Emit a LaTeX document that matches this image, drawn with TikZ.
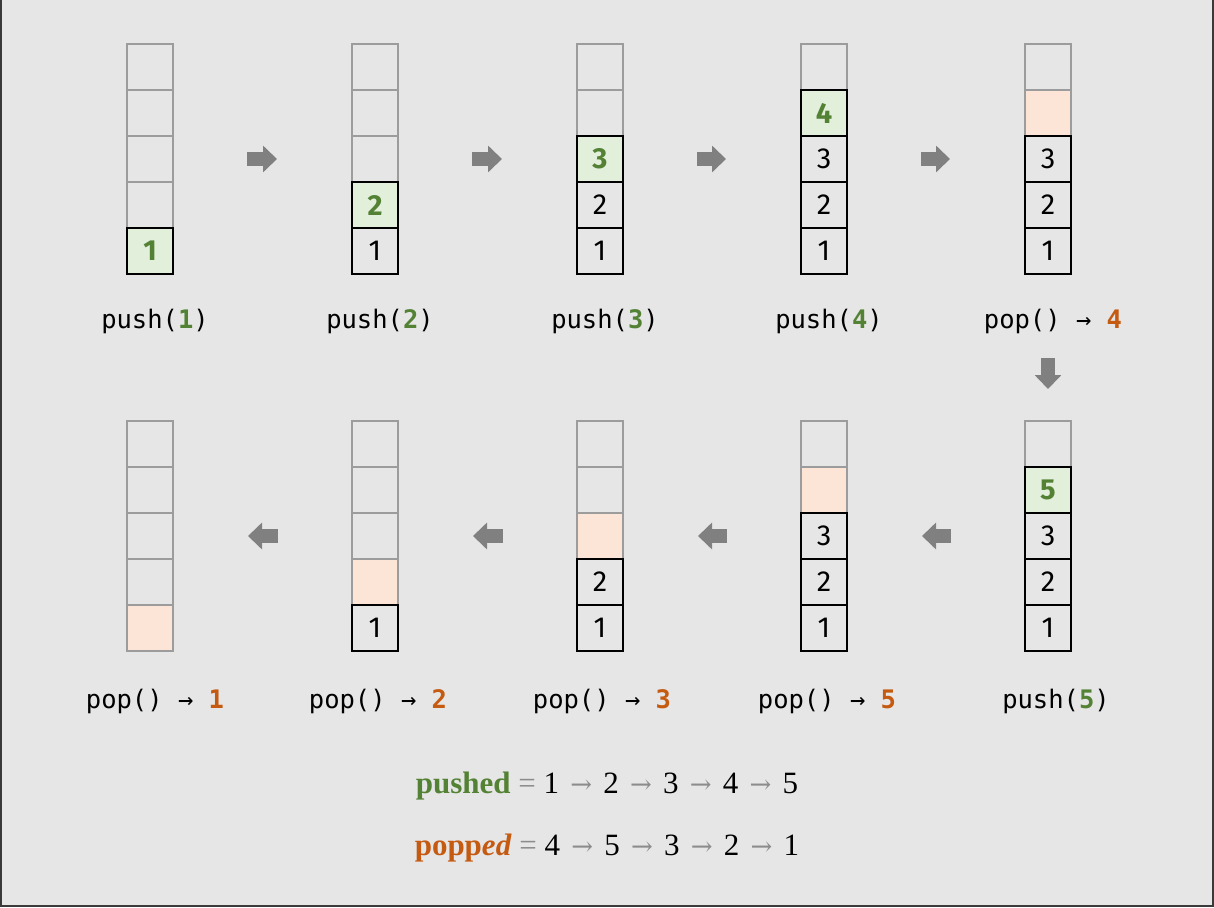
\documentclass[tikz,border=0pt]{standalone}
\usepackage{fontspec}
\setmainfont{Liberation Serif}
\setsansfont{Fira Sans}
\setmonofont{DejaVu Sans Mono}
\newfontfamily\arrowfont{DejaVu Serif}
\usetikzlibrary{arrows.meta}
\definecolor{bgGray}{HTML}{E6E6E6}
\definecolor{frameGray}{HTML}{3A3A3A}
\definecolor{emptyGray}{HTML}{9C9C9C}
\definecolor{arrowGray}{HTML}{808080}
\definecolor{symGray}{HTML}{8C8C8C}
\definecolor{pushGreen}{HTML}{548235}
\definecolor{pushFill}{HTML}{E2EFDA}
\definecolor{popOrange}{HTML}{C55A11}
\definecolor{popFill}{HTML}{FCE4D6}
\newcommand{\nxt}{\hspace{3.5pt}{\color{symGray}\arrowfont\fontsize{26}{26}\selectfont→}\hspace{3.5pt}}

\begin{document}
\begin{tikzpicture}[
		x = 1pt, y = -1pt,
		cell/.style = {
			draw,
			rectangle,
			minimum size = 46pt,
			inner sep = 0pt,
			font = \sffamily\fontsize{29}{29}\selectfont,
		},
		celle/.style = {cell, draw = emptyGray, line width = 1.5pt},
		celln/.style = {cell, draw = black, line width = 2pt},
		cellg/.style = {celln, fill = pushFill, text = pushGreen, font = \sffamily\bfseries\fontsize{29}{29}\selectfont},
		cellp/.style = {celle, fill = popFill},
		oplabel/.style = {font = \ttfamily\fontsize{25.5}{25.5}\selectfont},
		formula/.style = {font = \fontsize{31}{31}\selectfont},
		flow/.style = {
			draw = arrowGray,
			line width = 14pt,
			-{Triangle[length = 14pt, width = 26pt]},
			shorten <= 97pt,
			shorten >= 98pt,
		}
	]
	\useasboundingbox (0,0) rectangle (1214,907);
	\fill[bgGray] (0,0) rectangle (1214,907);
	\draw[frameGray, line width = 2pt] (1,0) -- (1,906) -- (1213,906) -- (1213,0);

	% stacks, cells listed from top to bottom
	\foreach \i/\cx/\ytop/\cells in {
			1/150/44/{e/{},e/{},e/{},e/{},g/1},
			2/375/44/{e/{},e/{},e/{},g/2,n/1},
			3/600/44/{e/{},e/{},g/3,n/2,n/1},
			4/824/44/{e/{},g/4,n/3,n/2,n/1},
			5/1048/44/{e/{},p/{},n/3,n/2,n/1},
			6/1048/421/{e/{},g/5,n/3,n/2,n/1},
			7/824/421/{e/{},p/{},n/3,n/2,n/1},
			8/600/421/{e/{},e/{},p/{},n/2,n/1},
			9/375/421/{e/{},e/{},e/{},p/{},n/1},
			10/150/421/{e/{},e/{},e/{},e/{},p/{}}}
		{
			\foreach \t/\v [count = \k] in \cells
				\node [cell\t] (s\i-\k) at (\cx, \ytop + \k*46 - 23) {\v};
		}

	% labels
	\node [oplabel] (l1) at (155,321) {push({\color{pushGreen}\bfseries 1})};
	\node [oplabel] (l2) at (380,321) {push({\color{pushGreen}\bfseries 2})};
	\node [oplabel] (l3) at (605,321) {push({\color{pushGreen}\bfseries 3})};
	\node [oplabel] (l4) at (829,321) {push({\color{pushGreen}\bfseries 4})};
	\node [oplabel] (l5) at (1053,321) {pop() → {\color{popOrange}\bfseries 4}};
	\node [oplabel] (l6) at (1056,701) {push({\color{pushGreen}\bfseries 5})};
	\node [oplabel] (l7) at (827,701) {pop() → {\color{popOrange}\bfseries 5}};
	\node [oplabel] (l8) at (602,701) {pop() → {\color{popOrange}\bfseries 3}};
	\node [oplabel] (l9) at (378,701) {pop() → {\color{popOrange}\bfseries 2}};
	\node [oplabel] (l10) at (155,701) {pop() → {\color{popOrange}\bfseries 1}};

	% steps
	\draw [flow] (s1-3.center) to (s2-3.center);
	\draw [flow] (s2-3.center) to (s3-3.center);
	\draw [flow] (s3-3.center) to (s4-3.center);
	\draw [flow] (s4-3.center) to (s5-3.center);
	\draw [flow, shorten <= 107pt, shorten >= 55pt] (s5-5.center) to (s6-1.center);
	\draw [flow] (s6-3.center) to (s7-3.center);
	\draw [flow] (s7-3.center) to (s8-3.center);
	\draw [flow] (s8-3.center) to (s9-3.center);
	\draw [flow] (s9-3.center) to (s10-3.center);

	% sequences
	\node [formula] (pushed) at (607,786) {{\color{pushGreen}\bfseries pushed} {\color{symGray}=} 1 \nxt{} 2 \nxt{} 3 \nxt{} 4 \nxt{} 5};
	\node [formula] (popped) at (607,848) {{\color{popOrange}\bfseries popp\textit{ed}} {\color{symGray}=} 4 \nxt{} 5 \nxt{} 3 \nxt{} 2 \nxt{} 1};
\end{tikzpicture}
\end{document}
